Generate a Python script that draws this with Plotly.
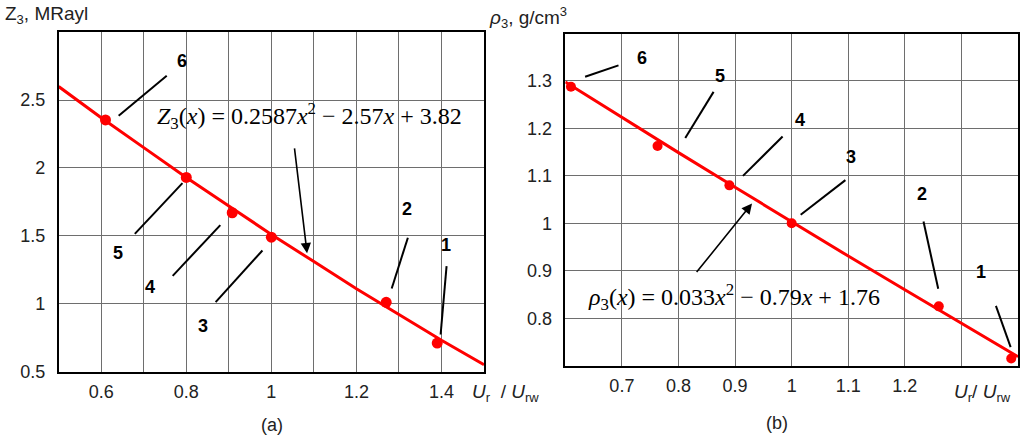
import plotly.graph_objects as go

W, H = 1024, 448

# ---------------- data ----------------
# Panel (a): acoustic impedance Z3 vs Ur/Urw
a_pts_x = [0.61, 0.80, 0.908, 1.00, 1.27, 1.39]
a_pts_y = [2.354, 1.93, 1.67, 1.49, 1.01, 0.71]
a_pts_lbl = ["6", "5", "4", "3", "2", "1"]
a_fit_x = [0.5, 0.6, 0.7, 0.8, 0.9, 1.0, 1.1, 1.2, 1.3, 1.4, 1.5]
a_fit_y = [2.60, 2.37, 2.15, 1.93, 1.72, 1.51, 1.31, 1.11, 0.92, 0.73, 0.55]
a_xticks = [0.6, 0.7, 0.8, 0.9, 1.0, 1.1, 1.2, 1.3, 1.4]
a_xtext = ["0.6", "", "0.8", "", "1", "", "1.2", "", "1.4"]
a_yticks = [0.5, 1.0, 1.5, 2.0, 2.5]
a_ytext = ["0.5", "1", "1.5", "2", "2.5"]

# Panel (b): density rho3 vs Ur/Urw
b_pts_x = [0.61, 0.763, 0.89, 1.00, 1.26, 1.388]
b_pts_y = [1.288, 1.163, 1.08, 1.00, 0.825, 0.715]
b_pts_lbl = ["6", "5", "4", "3", "2", "1"]
b_fit_x = [0.6, 0.7, 0.8, 0.9, 1.0, 1.1, 1.2, 1.3, 1.4]
b_fit_y = [1.298, 1.223, 1.149, 1.076, 1.003, 0.931, 0.860, 0.789, 0.719]
b_xticks = [0.7, 0.8, 0.9, 1.0, 1.1, 1.2, 1.3]
b_xtext = ["0.7", "0.8", "0.9", "1", "1.1", "1.2", ""]
b_yticks = [0.8, 0.9, 1.0, 1.1, 1.2, 1.3]
b_ytext = ["0.8", "0.9", "1", "1.1", "1.2", "1.3"]

# label placement and leader lines (data coords): (label x, label y, line x0, y0, x1, y1)
a_callouts = [
    (0.791, 2.788, 0.754, 2.68, 0.641, 2.385),
    (0.639, 1.371, 0.791, 1.888, 0.679, 1.514),
    (0.714, 1.126, 0.880, 1.579, 0.768, 1.205),
    (0.840, 0.838, 0.979, 1.392, 0.869, 1.011),
    (1.319, 1.694, 1.321, 1.486, 1.283, 1.112),
    (1.410, 1.435, 1.412, 1.277, 1.398, 0.773),
]
b_callouts = [
    (0.736, 1.348, 0.694, 1.333, 0.635, 1.309),
    (0.874, 1.311, 0.862, 1.277, 0.812, 1.180),
    (1.015, 1.218, 0.984, 1.183, 0.914, 1.100),
    (1.104, 1.139, 1.095, 1.091, 1.016, 1.018),
    (1.231, 1.061, 1.233, 1.004, 1.259, 0.862),
    (1.334, 0.898, 1.361, 0.826, 1.387, 0.739),
]

RED = "#ff0000"
GRID = "#6e6e6e"
SANS = "Liberation Sans, Arial, sans-serif"
SERIF = "Liberation Serif, Times New Roman, serif"
TXT = "#222"

fig = go.Figure()

fig.add_trace(go.Scatter(x=a_fit_x, y=a_fit_y, mode="lines", line=dict(color=RED, width=3),
                         xaxis="x", yaxis="y", hoverinfo="skip", showlegend=False))
fig.add_trace(go.Scatter(x=a_pts_x, y=a_pts_y, mode="markers", marker=dict(color=RED, size=11),
                         xaxis="x", yaxis="y", showlegend=False))
fig.add_trace(go.Scatter(x=b_fit_x, y=b_fit_y, mode="lines", line=dict(color=RED, width=3),
                         xaxis="x2", yaxis="y2", hoverinfo="skip", showlegend=False))
fig.add_trace(go.Scatter(x=b_pts_x, y=b_pts_y, mode="markers", marker=dict(color=RED, size=10),
                         xaxis="x2", yaxis="y2", showlegend=False))


def px(x):
    return x / W


def py(y):
    return 1 - y / H


axis_common = dict(showline=True, mirror=True, linecolor="black", linewidth=1.5,
                   showgrid=True, gridcolor=GRID, gridwidth=1, zeroline=False,
                   ticks="", tickfont=dict(family=SANS, size=18, color=TXT))

fig.update_layout(
    width=W, height=H,
    margin=dict(l=0, r=0, t=0, b=0),
    paper_bgcolor="white", plot_bgcolor="white",
    xaxis=dict(domain=[px(58.7), px(484)], range=[0.5, 1.5], tickmode="array",
               tickvals=a_xticks, ticktext=a_xtext, anchor="y", ticklabelstandoff=3, **axis_common),
    yaxis=dict(domain=[py(380), py(33)], range=[0.5, 3.0], tickmode="array",
               tickvals=a_yticks, ticktext=a_ytext, anchor="x", ticklabelstandoff=8, **axis_common),
    xaxis2=dict(domain=[px(565.3), px(1018)], range=[0.6, 1.4], tickmode="array",
                tickvals=b_xticks, ticktext=b_xtext, anchor="y2", ticklabelstandoff=3, **axis_common),
    yaxis2=dict(domain=[py(374), py(34.3)], range=[0.7, 1.4], tickmode="array",
                tickvals=b_yticks, ticktext=b_ytext, anchor="x2", ticklabelstandoff=8, **axis_common),
)

shapes = []
annotations = []


def callouts(items, labels, xr, yr):
    for (lx, ly, x0, y0, x1, y1), t in zip(items, labels):
        shapes.append(dict(type="line", xref=xr, yref=yr, x0=x0, y0=y0, x1=x1, y1=y1,
                           line=dict(color="black", width=2)))
        annotations.append(dict(xref=xr, yref=yr, x=lx, y=ly, text="<b>%s</b>" % t,
                                showarrow=False, font=dict(family=SANS, size=18, color="black")))


callouts(a_callouts, a_pts_lbl, "x", "y")
callouts(b_callouts, b_pts_lbl, "x2", "y2")

fig.update_layout(shapes=shapes)

# equations and arrows
annotations.append(dict(xref="x", yref="y", x=1.089, y=2.385,
                        text="<i>Z</i><sub>3</sub>(<i>x</i>) = 0.2587<i>x</i><sup>2</sup> − 2.57<i>x</i> + 3.82",
                        showarrow=False, font=dict(family=SERIF, size=24, color="black")))
annotations.append(dict(xref="x", yref="y", axref="x", ayref="y", x=1.084, y=1.371, ax=1.054, ay=2.155,
                        text="", showarrow=True, arrowhead=2, arrowsize=1.3, arrowwidth=1.6,
                        arrowcolor="black"))
annotations.append(dict(xref="x2", yref="y2", x=0.8975, y=0.845,
                        text="<i>ρ</i><sub>3</sub>(<i>x</i>) = 0.033<i>x</i><sup>2</sup> − 0.79<i>x</i> + 1.76",
                        showarrow=False, font=dict(family=SERIF, size=24, color="black")))
annotations.append(dict(xref="x2", yref="y2", axref="x2", ayref="y2", x=0.930, y=1.042, ax=0.830, ay=0.894,
                        text="", showarrow=True, arrowhead=2, arrowsize=1.3, arrowwidth=1.6,
                        arrowcolor="black"))

SUB = "<sub><span style='font-size:13px'>%s</span></sub>"
SUP = "<sup><span style='font-size:13px'>%s</span></sup>"

# axis titles and panel captions
annotations += [
    dict(xref="paper", yref="paper", x=px(3), y=py(15), xanchor="left", yanchor="middle",
         text="Z" + SUB % "3" + ", MRayl", showarrow=False, font=dict(family=SANS, size=19, color=TXT)),
    dict(xref="paper", yref="paper", x=px(487), y=py(18), xanchor="left", yanchor="middle",
         text="<i>ρ</i>" + SUB % "3" + ", g/cm" + SUP % "3", showarrow=False,
         font=dict(family=SANS, size=19, color=TXT)),
    dict(xref="paper", yref="paper", x=px(470), y=py(402), xanchor="left", yanchor="middle",
         text="<i>U</i>" + SUB % "r" + "  / <i>U</i>" + SUB % "rw", showarrow=False,
         font=dict(family=SANS, size=19, color=TXT)),
    dict(xref="paper", yref="paper", x=px(952), y=py(402), xanchor="left", yanchor="middle",
         text="<i>U</i>" + SUB % "r" + "/ <i>U</i>" + SUB % "rw", showarrow=False,
         font=dict(family=SANS, size=19, color=TXT)),
    dict(xref="paper", yref="paper", x=px(272), y=py(435), xanchor="center", yanchor="middle",
         text="(a)", showarrow=False, font=dict(family=SANS, size=18, color=TXT)),
    dict(xref="paper", yref="paper", x=px(777), y=py(433), xanchor="center", yanchor="middle",
         text="(b)", showarrow=False, font=dict(family=SANS, size=18, color=TXT)),
]

fig.update_layout(annotations=annotations)

fig.write_html("out.html", config={"displayModeBar": False},
               post_script="document.body.style.margin='0';document.body.style.overflow='hidden';")
